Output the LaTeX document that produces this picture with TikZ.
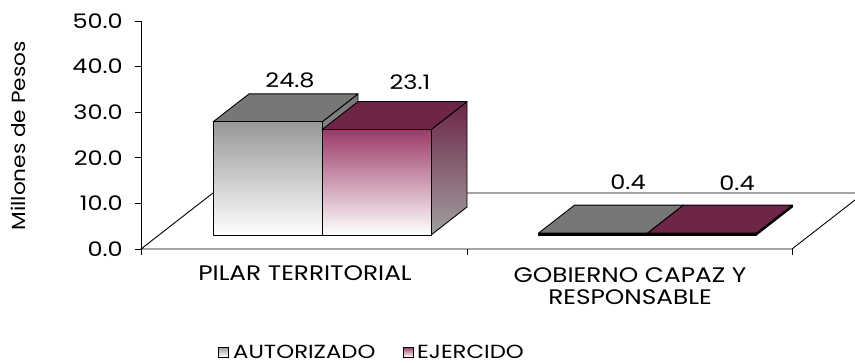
\documentclass[tikz,border=0pt]{standalone}
\usepackage{fontspec}
\setmainfont{Poppins}
\begin{document}
\begin{tikzpicture}[x=1pt,y=1pt,
  lbl/.style={inner sep=0pt,font=\fontsize{20}{24}\selectfont,xscale=1.2},
  catlbl/.style={inner sep=0pt,align=center,font=\fontsize{21}{22}\selectfont,xscale=1.18},
  leglbl/.style={inner sep=0pt,anchor=west,font=\fontsize{19}{20}\selectfont,xscale=1.2},
  edge/.style={draw=black,line width=0.9pt,line join=round},
  gfront/.style={edge,top color=graytop,bottom color=white},
  gtop/.style={edge,fill=graydark},
  pfront/.style={edge,top color=plumtop,bottom color=white},
  ptop/.style={edge,fill=plumdark},
  pside/.style={edge,top color=plumdark,bottom color=sidegray},
  gside/.style={edge,top color=graydark,bottom color=sidegray}]
\definecolor{graytop}{HTML}{989898}
\definecolor{graydark}{HTML}{777777}
\definecolor{plumtop}{HTML}{9C3A69}
\definecolor{plumdark}{HTML}{6E2548}
\definecolor{sidegray}{HTML}{A0A0A0}
\useasboundingbox (0,0) rectangle (855,362);
\begin{scope}
\clip (0,0) rectangle (855,362);
\begin{scope}[shift={(0pt,113pt)},x={(1pt,0pt)},y={(0pt,4.56pt)},z={(72pt,56pt)}]
  % floor
  \draw[line width=0.9pt,fill=white] (141,0,0) -- (792,0,0) -- (792,0,1) -- (141,0,1) -- cycle;
  % axis
  \draw[line width=0.9pt] (141,-1.3,0) -- (141,50,0);
  \foreach \v in {0,10,20,30,40,50} \draw[line width=0.9pt] (135,\v,0) -- (141,\v,0);
  \foreach \xx in {467,792} \draw[line width=0.9pt] (\xx,-1.3,0) -- (\xx,0,0);
  % bar 1 (autorizado, pilar)
  \path[gside] (304,0,0.25) -- (304,0,0.75) -- (304,24.8,0.75) -- (304,24.8,0.25) -- cycle;
  \path[gtop] (195,24.8,0.25) -- (304,24.8,0.25) -- (304,24.8,0.75) -- (195,24.8,0.75) -- cycle;
  \path[gfront] (195,0,0.25) rectangle (304,24.8,0.25);
  % bar 2 (ejercido, pilar)
  \path[pside] (413,0,0.25) -- (413,0,0.75) -- (413,23.1,0.75) -- (413,23.1,0.25) -- cycle;
  \path[ptop] (304,23.1,0.25) -- (413,23.1,0.25) -- (413,23.1,0.75) -- (304,23.1,0.75) -- cycle;
  \path[pfront] (304,0,0.25) rectangle (413,23.1,0.25);
  % bar 3 (autorizado, gobierno)
  \path[gtop] (520.5,0.4,0.25) -- (629.5,0.4,0.25) -- (629.5,0.4,0.75) -- (520.5,0.4,0.75) -- cycle;
  \path[edge,fill=black] (520.5,0,0.25) rectangle (629.5,0.4,0.25);
  % bar 4 (ejercido, gobierno)
  \path[ptop] (629.5,0.4,0.25) -- (738.5,0.4,0.25) -- (738.5,0.4,0.75) -- (629.5,0.4,0.75) -- cycle;
  \path[edge,fill=black] (629.5,0,0.25) rectangle (738.5,0.4,0.25);
  \path[edge,fill=black] (738.5,0,0.25) -- (738.5,0,0.75) -- (738.5,0.4,0.75) -- (738.5,0.4,0.25) -- cycle;
\end{scope}
\end{scope}
% tick labels
\foreach \v/\t in {0/0.0,10/10.0,20/20.0,30/30.0,40/40.0,50/50.0}
  \node[lbl,anchor=east] (t\v) at (123,{113+4.56*\v}) {\t};
% data labels
\node[lbl] (d1) at (290,282) {24.8};
\node[lbl] (d2) at (410,280) {23.1};
\node[lbl] (d3) at (628,180) {0.4};
\node[lbl] (d4) at (737,179) {0.4};
% category labels
\node[catlbl] (c1) at (305,89) {PILAR TERRITORIAL};
\node[catlbl] (c2) at (630,76) {GOBIERNO CAPAZ Y\\RESPONSABLE};
% y label
\node[inner sep=0pt,rotate=90,xscale=1.14,font=\fontsize{19}{20}\selectfont] (yl) at (18,226) {Millones de Pesos};
% legend
\path[draw=black,line width=0.9pt,top color=graytop,bottom color=white] (218,5) rectangle (228,15);
\node[leglbl] (l1) at (233,10) {AUTORIZADO};
\path[draw=black,line width=0.9pt,top color=plumtop,bottom color=white] (403,5) rectangle (413,15);
\node[leglbl] (l2) at (417,10) {EJERCIDO};
\end{tikzpicture}
\end{document}
